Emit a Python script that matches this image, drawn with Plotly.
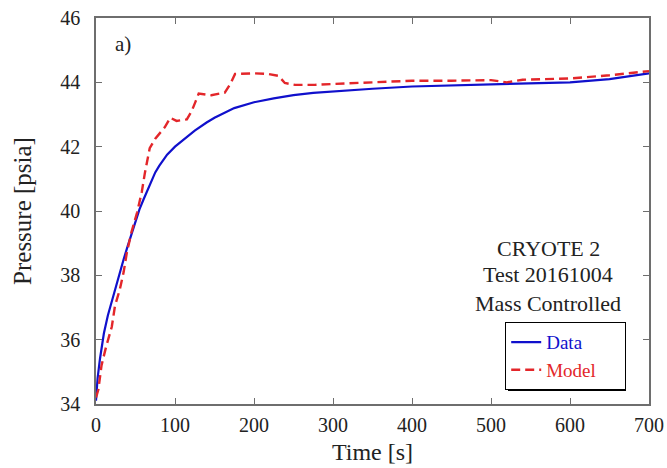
import plotly.graph_objects as go

# ---- data ----
data_time = [0, 2, 5, 10, 15, 20, 25, 30, 35, 40, 45, 50, 55, 60, 65, 70, 75,
             80, 90, 100, 110, 125, 140, 150, 175, 200, 225, 250, 275, 300,
             350, 400, 450, 500, 550, 600, 650, 700]
data_pressure = [34.1, 34.8, 35.4, 36.2, 36.75, 37.2, 37.65, 38.05, 38.5, 38.9,
                 39.3, 39.7, 40.05, 40.35, 40.65, 40.95, 41.2, 41.4, 41.75,
                 42.0, 42.2, 42.5, 42.75, 42.9, 43.2, 43.38, 43.5, 43.6, 43.67,
                 43.72, 43.8, 43.87, 43.9, 43.93, 43.96, 44.0, 44.1, 44.28]

model_time = [0, 3, 7, 13, 20, 24, 30, 35, 39, 45, 52, 58, 62, 68, 75, 80, 87,
              94, 102, 115, 121, 126, 130, 146, 163, 170, 176, 200, 218, 231,
              239, 252, 277, 300, 350, 400, 450, 500, 520, 540, 600, 650, 700]
model_pressure = [34.2, 34.45, 35.2, 35.8, 36.4, 37.05, 37.55, 38.1, 38.7,
                  39.35, 39.95, 40.6, 41.2, 41.95, 42.25, 42.4, 42.6, 42.9,
                  42.8, 42.85, 43.1, 43.4, 43.65, 43.6, 43.68, 43.95, 44.26,
                  44.28, 44.26, 44.2, 43.98, 43.92, 43.92, 43.95, 44.0, 44.05,
                  44.05, 44.07, 44.0, 44.08, 44.12, 44.22, 44.35]

x_ticks = [0, 100, 200, 300, 400, 500, 600, 700]
y_ticks = [34, 36, 38, 40, 42, 44, 46]

info_lines = ["CRYOTE 2", "Test 20161004", "Mass Controlled"]

FONT = "Liberation Serif, Times New Roman, serif"
TXT = "#222222"
AXC = "#6e6e6e"
BLUE = "#1010cc"
RED = "#e3262a"

# plot area in pixels (for paper-coordinate placement of decorations)
L, R, T, B = 96, 649, 18, 404
def px(xp):
    return (xp - L) / (R - L)
def py(yp):
    return (B - yp) / (B - T)

NB = "\u00a0"
fig = go.Figure()
fig.add_trace(go.Scatter(x=data_time, y=data_pressure, mode="lines",
                         name=f"<span style='color:{BLUE}'>Data</span>",
                         line=dict(color=BLUE, width=2.2)))
fig.add_trace(go.Scatter(x=model_time, y=model_pressure, mode="lines",
                         name=f"<span style='color:{RED}'>Model</span>" + NB * 5,
                         line=dict(color=RED, width=2.4, dash="9px,5px")))

axis_common = dict(showgrid=False, zeroline=False, showline=True, mirror="ticks",
                   linecolor=AXC, linewidth=1.5, ticks="inside", ticklen=6,
                   tickcolor=AXC, tickwidth=1.2, automargin=False,
                   tickfont=dict(family=FONT, size=20, color=TXT))

fig.update_xaxes(range=[0, 700], tickvals=x_ticks, ticklabelstandoff=2,
                 title=dict(text="Time [s]", font=dict(family=FONT, size=24, color=TXT),
                            standoff=8),
                 **axis_common)
fig.update_yaxes(range=[34, 46], tickvals=y_ticks, ticklabelstandoff=10,
                 title=dict(text="Pressure [psia]", font=dict(family=FONT, size=25, color=TXT),
                            standoff=22),
                 **axis_common)

annotations = [dict(text="a)", x=px(123), y=py(44), xref="paper", yref="paper",
                    showarrow=False, xanchor="center", yanchor="middle",
                    font=dict(family=FONT, size=21, color=TXT))]
line_y = [248, 275, 303]
for t, yy in zip(info_lines, line_y):
    annotations.append(dict(text=t, x=px(548), y=py(yy),
                            xref="paper", yref="paper", showarrow=False,
                            xanchor="center", yanchor="middle",
                            font=dict(family=FONT, size=22, color=TXT)))

LEG_TOP = 322
LEG_H = 66
fig.update_layout(
    width=667, height=468,
    margin=dict(l=L, r=667 - R, t=T, b=468 - B, autoexpand=False),
    paper_bgcolor="white", plot_bgcolor="white",
    showlegend=True,
    legend=dict(x=px(505), y=py(LEG_TOP), xanchor="left", yanchor="top",
                bgcolor="white", bordercolor="black", borderwidth=1.2,
                font=dict(family=FONT, size=19, color=TXT),
                tracegroupgap=0, itemwidth=30),
    annotations=annotations,
    shapes=[dict(type="rect", xref="paper", yref="paper",
                 x0=px(508), x1=px(626),
                 y0=py(LEG_TOP + LEG_H + 3), y1=py(LEG_TOP + 3),
                 fillcolor="black", line=dict(width=0), layer="above")],
)

fig.write_html("out.html",
               config={"displayModeBar": False},
               post_script="document.body.style.margin='0';"
                           "document.body.style.overflow='hidden';")
